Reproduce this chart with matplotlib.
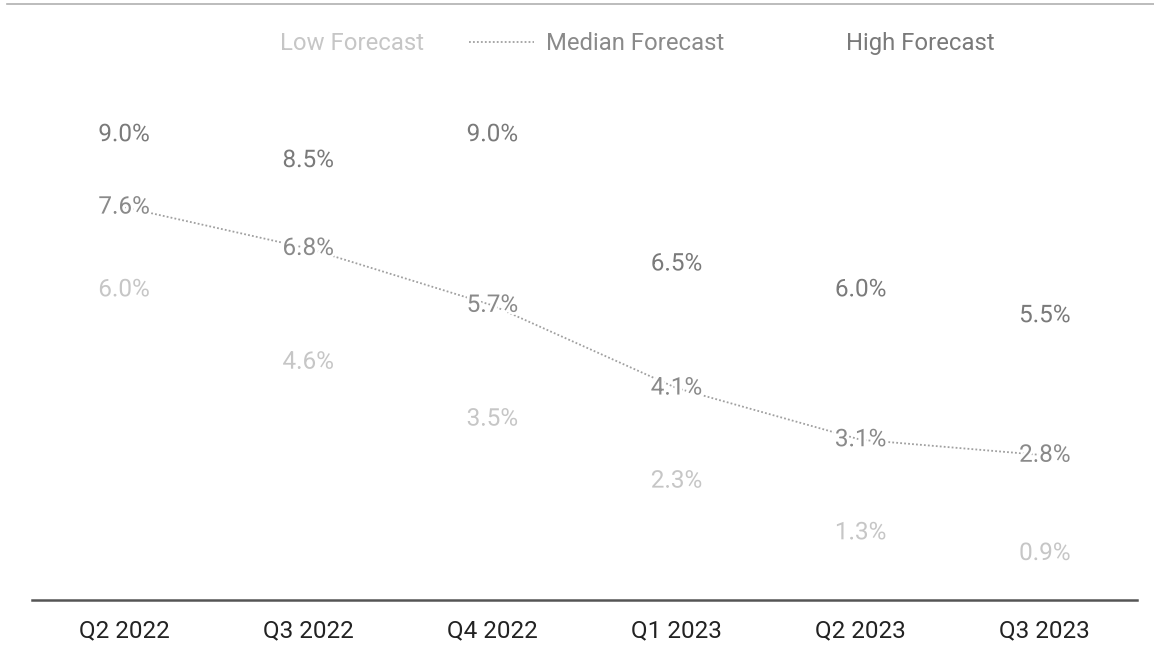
import matplotlib
matplotlib.use("Agg")
import matplotlib.pyplot as plt
import matplotlib.patheffects as pe
from matplotlib.lines import Line2D

plt.rcParams['font.family'] = ['Roboto', 'DejaVu Sans']

quarters = ['Q2 2022', 'Q3 2022', 'Q4 2022', 'Q1 2023', 'Q2 2023', 'Q3 2023']
low_forecast = [6.0, 4.6, 3.5, 2.3, 1.3, 0.9]
median_forecast = [7.6, 6.8, 5.7, 4.1, 3.1, 2.8]
high_forecast = [9.0, 8.5, 9.0, 6.5, 6.0, 5.5]

low_color = '#c6c6c6'
median_color = '#8a8a8a'
high_color = '#7a7a7a'
line_color = '#a0a0a0'

fig = plt.figure(figsize=(11.54, 6.72), dpi=100)
ax = fig.add_axes([0.0277, 0.1071, 0.9575, 0.7694])

x = list(range(len(quarters)))
ax.plot(x, median_forecast, linestyle=(0, (1, 1.2)), color=line_color, linewidth=1.3, zorder=1)

halo = [pe.withStroke(linewidth=4, foreground='white')]
for xi, v in zip(x, low_forecast):
    ax.text(xi, v, f'{v:.1f}%', ha='center', va='center', fontsize=17.5,
            color=low_color, path_effects=halo, zorder=3)
for xi, v in zip(x, median_forecast):
    ax.text(xi, v, f'{v:.1f}%', ha='center', va='center', fontsize=17.5,
            color=median_color, path_effects=halo, zorder=3)
for xi, v in zip(x, high_forecast):
    ax.text(xi, v, f'{v:.1f}%', ha='center', va='center', fontsize=17.5,
            color=high_color, path_effects=halo, zorder=3)

ax.set_xlim(-0.5, len(quarters) - 0.5)
ax.set_ylim(0, 10)
ax.set_xticks(x)
ax.set_xticklabels(quarters, fontsize=17.5, color='#222222')
ax.tick_params(axis='x', length=0, pad=14)
ax.set_yticks([])
for side in ['top', 'left', 'right']:
    ax.spines[side].set_visible(False)
ax.spines['bottom'].set_color('#555555')
ax.spines['bottom'].set_linewidth(1.8)

handles = [
    Line2D([], [], color='none'),
    Line2D([], [], color=line_color, linestyle=(0, (1, 1.2)), linewidth=1.3),
    Line2D([], [], color='none'),
]
fig.legend(handles, ['Low Forecast', 'Median Forecast', 'High Forecast'],
           loc='center', bbox_to_anchor=(0.519, 0.935), ncol=3, frameon=False,
           fontsize=17.2, labelcolor=[low_color, median_color, high_color],
           handlelength=2.75, handletextpad=0.5, columnspacing=1.85,
           borderpad=0, borderaxespad=0)

# thin frame line along the top
fig.add_artist(Line2D([0.006, 1.0], [0.9935, 0.9935], color='#b0b0b0', linewidth=1.2))

fig.savefig('out.png', dpi=100, facecolor='white')
